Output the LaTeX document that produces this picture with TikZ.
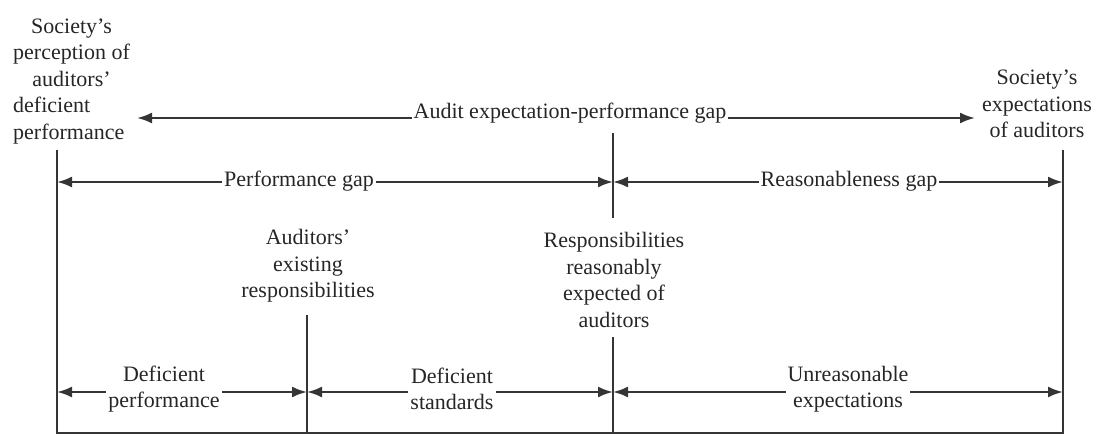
\documentclass[tikz,border=0pt]{standalone}
\usepackage{fontspec}
\setmainfont{Liberation Serif}
\usetikzlibrary{arrows.meta}
\definecolor{ink}{HTML}{262626}
\definecolor{rulegray}{HTML}{353535}
\begin{document}
\begin{tikzpicture}[x=1pt,y=-1pt,
  txt/.style={font=\fontsize{22}{26.5}\selectfont, text=ink, inner sep=0pt, align=center},
  lbl/.style={txt, fill=white, inner xsep=2pt, inner ysep=1pt},
  bar/.style={draw=rulegray, line width=2.3pt},
  gap/.style={draw=rulegray, line width=2.3pt,
    {Latex[length=15pt,width=11pt]}-{Latex[length=15pt,width=11pt]}},
]
\useasboundingbox (0,0) rectangle (1096,436);

% end points of the vertical rules and gap arrows
\coordinate (Ltop) at (57,150);
\coordinate (Lbot) at (57,433);
\coordinate (Rtop) at (1063,150);
\coordinate (Rbot) at (1063,433);
\coordinate (Etop) at (307,315);
\coordinate (Ebot) at (307,433);
\coordinate (Mtop) at (613,133);
\coordinate (Mmid) at (613,218);
\coordinate (Mlow) at (613,337);
\coordinate (Mbot) at (613,433);
\coordinate (Aleft) at (137,118);
\coordinate (Aright) at (975,118);
\coordinate (PgL) at (57,182);
\coordinate (PgM) at (613,182);
\coordinate (PgR) at (1063,182);
\coordinate (BL) at (57,392);
\coordinate (BE) at (307,392);
\coordinate (BM) at (613,392);
\coordinate (BR) at (1063,392);

% vertical rules and base line
\draw[bar] (Ltop) -- (Lbot) -- (Rbot) -- (Rtop);
\draw[bar] (Etop) -- (Ebot);
\draw[bar] (Mtop) -- (Mmid);
\draw[bar] (Mlow) -- (Mbot);

% gap arrows
\draw[gap] (Aleft) -- (Aright);
\draw[gap] (PgL) -- (PgM);
\draw[gap] (PgM) -- (PgR);
\draw[gap] (BL) -- (BE);
\draw[gap] (BE) -- (BM);
\draw[gap] (BM) -- (BR);

% arrow labels
\node[lbl] (aepg) at (570,113) {Audit expectation-performance gap};
\node[lbl] (pg) at (299,181) {Performance gap};
\node[lbl] (rg) at (849,181) {Reasonableness gap};
\node[lbl] (dp) at (164,389) {Deficient\\performance};
\node[lbl] (ds) at (452,389) {Deficient\\standards};
\node[lbl] (ue) at (848,389) {Unreasonable\\expectations};

% end-point captions
\node[txt, anchor=west] (perc) at (13,81) {\begin{tabular}{@{}c@{}}Society’s\\perception of\\auditors’\\\multicolumn{1}{@{}l@{}}{deficient}\\\multicolumn{1}{@{}l@{}}{performance}\end{tabular}};
\node[txt] (expc) at (1037,104) {Society’s\\expectations\\of auditors};
\node[txt] (exist) at (308,266) {Auditors’\\existing\\responsibilities};
\node[txt] (reas) at (614,280) {Responsibilities\\reasonably\\expected of\\auditors};
\end{tikzpicture}
\end{document}
